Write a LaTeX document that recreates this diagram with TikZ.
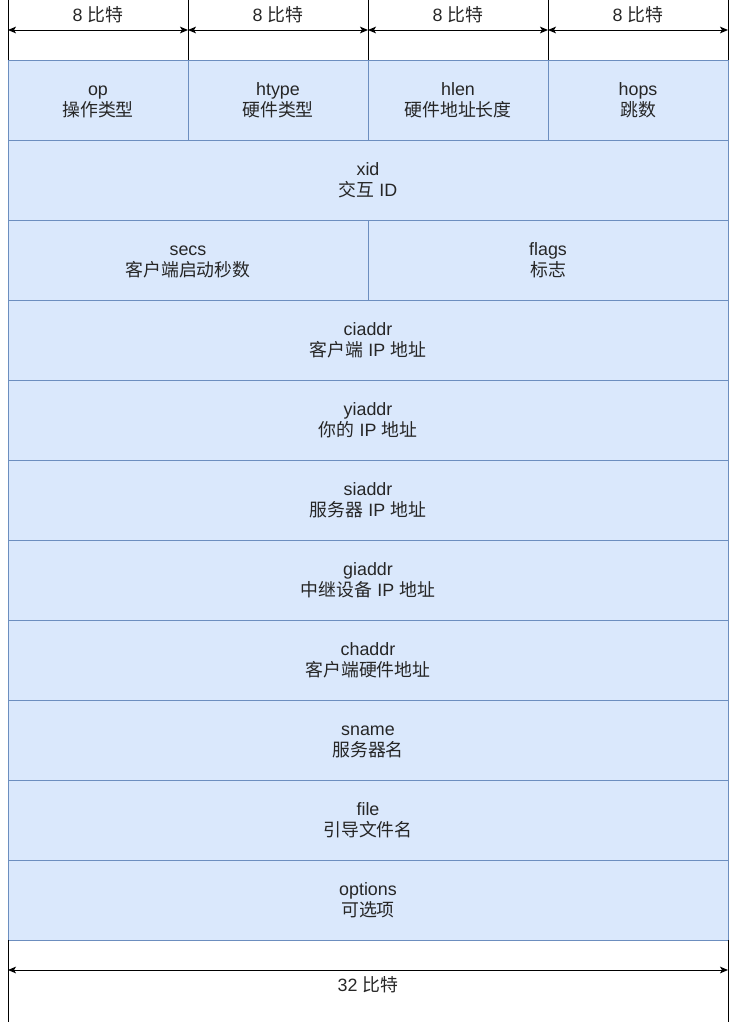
\documentclass[tikz,border=0pt]{standalone}
\usepackage{fontspec}
\setmainfont{Liberation Sans}
\newfontfamily\cjk{Noto Sans CJK SC}
\newcommand{\zh}[1]{{\cjk #1}}
\newcommand{\fld}[2]{\rule{0pt}{13.5pt}#1\\#2\strut}
\usetikzlibrary{positioning, arrows.meta}
\definecolor{fieldfill}{HTML}{DAE8FC}
\definecolor{fieldline}{HTML}{6C8EBF}

\begin{document}
\begin{tikzpicture}[
        Field/.style={rectangle, draw=fieldline, fill=fieldfill, line width=0.75pt, minimum height=60pt, inner sep=0pt, outer sep=0pt, align=center, text=black!85, font={\fontsize{13.4}{15.5}\selectfont\lineskiplimit=-20pt\relax}},
        Byte/.style={Field, minimum width=135pt},
        Half/.style={Field, minimum width=270pt},
        Word/.style={Field, minimum width=540pt},
        Tick/.style={draw=black, line width=0.75pt},
        Dim/.style={Tick, {Stealth[length=6pt, width=5pt, inset=1.5pt]}-{Stealth[length=6pt, width=5pt, inset=1.5pt]}},
        Label/.style={inner sep=0pt, text=black!85, font=\fontsize{13.4}{15}\selectfont}
    ]

    \useasboundingbox (0,0) rectangle (553.5pt,-766.5pt);

    % Reference heights for the dimension lines
    \coordinate (top) at (0,0);
    \coordinate (lblTop) at (0,-11.25pt);
    \coordinate (arrTop) at (0,-22.5pt);
    \coordinate (arrBot) at (0,-727.5pt);
    \coordinate (lblBot) at (0,-738.75pt);
    \coordinate (bottom) at (0,-766.5pt);

    % First word: four one-byte fields
    \node (op) [Byte, anchor=north west] at (6pt,-45pt) {\fld{op}{\zh{操作类型}}};
    \node (htype) [Byte, right=0pt of op] {\fld{htype}{\zh{硬件类型}}};
    \node (hlen) [Byte, right=0pt of htype] {\fld{hlen}{\zh{硬件地址长度}}};
    \node (hops) [Byte, right=0pt of hlen] {\fld{hops}{\zh{跳数}}};

    % Remaining fields of the message
    \node (xid) [Word, below=0pt of op.south west, anchor=north west] {\fld{xid}{\zh{交互} ID}};
    \node (secs) [Half, below=0pt of xid.south west, anchor=north west] {\fld{secs}{\zh{客户端启动秒数}}};
    \node (flags) [Half, right=0pt of secs] {\fld{flags}{\zh{标志}}};
    \node (ciaddr) [Word, below=0pt of secs.south west, anchor=north west] {\fld{ciaddr}{\zh{客户端} IP \zh{地址}}};
    \node (yiaddr) [Word, below=0pt of ciaddr] {\fld{yiaddr}{\zh{你的} IP \zh{地址}}};
    \node (siaddr) [Word, below=0pt of yiaddr] {\fld{siaddr}{\zh{服务器} IP \zh{地址}}};
    \node (giaddr) [Word, below=0pt of siaddr] {\fld{giaddr}{\zh{中继设备} IP \zh{地址}}};
    \node (chaddr) [Word, below=0pt of giaddr] {\fld{chaddr}{\zh{客户端硬件地址}}};
    \node (sname) [Word, below=0pt of chaddr] {\fld{sname}{\zh{服务器名}}};
    \node (file) [Word, below=0pt of sname] {\fld{file}{\zh{引导文件名}}};
    \node (options) [Word, below=0pt of file] {\fld{options}{\zh{可选项}}};

    % Byte widths above the first row
    \draw[Tick] (op.north west) -- (op.north west |- top);
    \draw[Tick] (htype.north west) -- (htype.north west |- top);
    \draw[Tick] (hlen.north west) -- (hlen.north west |- top);
    \draw[Tick] (hops.north west) -- (hops.north west |- top);
    \draw[Tick] (hops.north east) -- (hops.north east |- top);

    \draw[Dim] (op.west |- arrTop) -- (op.east |- arrTop);
    \draw[Dim] (htype.west |- arrTop) -- (htype.east |- arrTop);
    \draw[Dim] (hlen.west |- arrTop) -- (hlen.east |- arrTop);
    \draw[Dim] (hops.west |- arrTop) -- (hops.east |- arrTop);

    \node (opBits) [Label] at (op |- lblTop) {8 \zh{比特}};
    \node (htypeBits) [Label] at (htype |- lblTop) {8 \zh{比特}};
    \node (hlenBits) [Label] at (hlen |- lblTop) {8 \zh{比特}};
    \node (hopsBits) [Label] at (hops |- lblTop) {8 \zh{比特}};

    % Total width below the last row
    \draw[Tick] (options.south west) -- (options.south west |- bottom);
    \draw[Tick] (options.south east) -- (options.south east |- bottom);
    \draw[Dim] (options.west |- arrBot) -- (options.east |- arrBot);
    \node (wordBits) [Label] at (options |- lblBot) {32 \zh{比特}};

\end{tikzpicture}
\end{document}
